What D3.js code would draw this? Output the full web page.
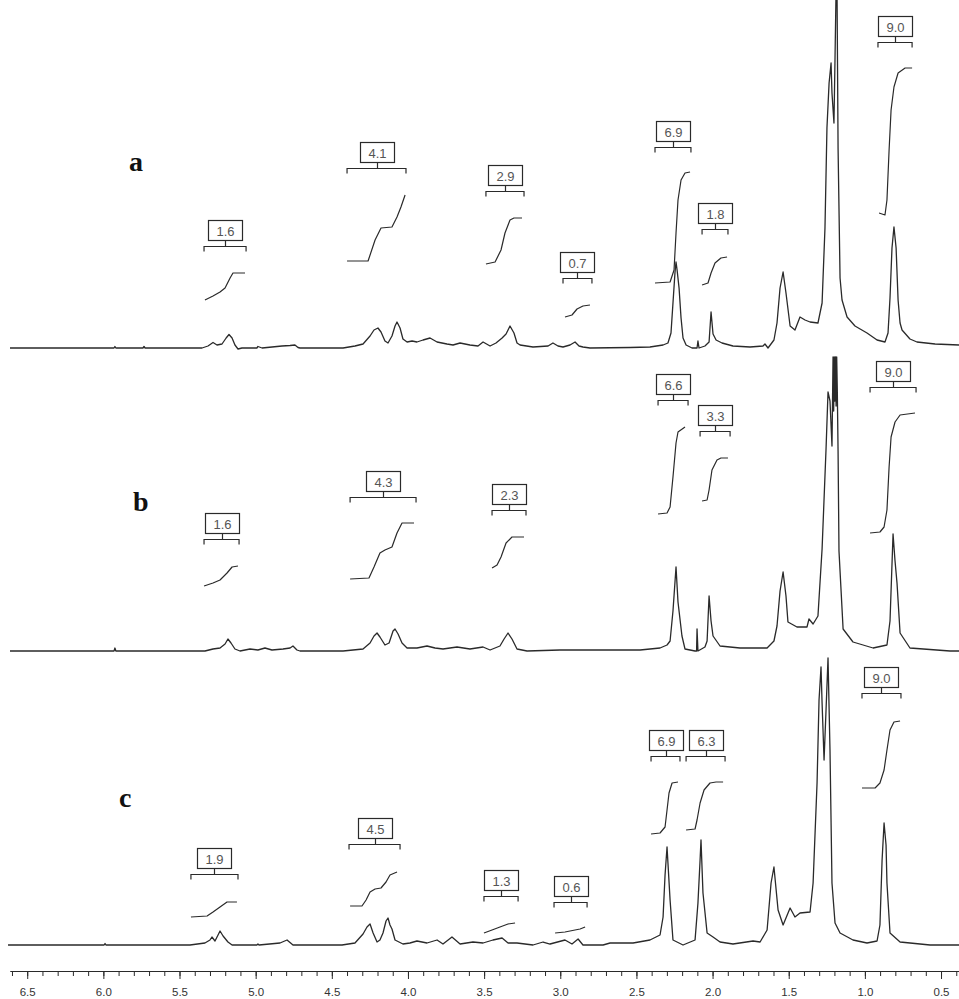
<!DOCTYPE html>
<html>
<head>
<meta charset="utf-8">
<script src="https://cdn.jsdelivr.net/npm/d3@7"></script>
<style>
  html, body { margin: 0; padding: 0; background: #fff; }
  svg { display: block; }
</style>
</head>
<body>
<svg id="chart" width="959" height="999"></svg>
<script>
// 1H NMR spectra (ppm) of three samples, stacked, with integration traces

const panelNames = ["a", "b", "c"];

const majorTicks = [6.5, 6.0, 5.5, 5.0, 4.5, 4.0, 3.5, 3.0, 2.5, 2.0, 1.5, 1.0, 0.5];
const tickLabels = ["6.5", "6.0", "5.5", "5.0", "4.5", "4.0", "3.5", "3.0", "2.5", "2.0", "1.5", "1.0", "0.5"];

// spectrum a: [chemical shift (ppm), intensity]
const spectrumA = [
  [6.613,0],[5.93,0],[5.924,1.5],[5.918,0],[5.74,0],[5.733,1.5],[5.726,0],
  [5.352,0],[5.313,2],[5.280,5.5],[5.254,3],[5.221,4],[5.194,10],[5.175,13.5],[5.155,10],
  [5.136,3],[5.116,-1],[5.090,0],[4.992,0],[4.985,1.5],[4.958,0],[4.827,2],[4.774,2.5],
  [4.742,3],[4.722,0.5],[4.709,0],[4.426,0],[4.348,2],[4.295,4],[4.249,12],[4.223,18],
  [4.197,20],[4.177,16],[4.151,7],[4.131,5],[4.105,12],[4.085,22],[4.072,26],[4.052,20],
  [4.033,9],[4.006,6],[3.973,7],[3.941,6],[3.901,8],[3.855,10],[3.809,6],[3.744,4],
  [3.704,3],[3.658,5],[3.593,3],[3.540,2],[3.507,6],[3.461,2],[3.422,5],[3.382,10],
  [3.356,14],[3.330,22],[3.304,15],[3.284,5],[3.264,3],[3.179,1],[3.080,2],[3.048,5],
  [3.015,2],[2.982,1],[2.936,3],[2.903,6],[2.877,2],[2.851,1],[2.805,0],[2.542,0.5],
  [2.411,1],[2.325,3],[2.293,5],[2.273,15],[2.260,45],[2.247,75],[2.240,86],[2.233,78],
  [2.220,60],[2.207,30],[2.194,10],[2.174,3],[2.135,0],[2.102,0],[2.096,7],[2.089,0],
  [2.050,2],[2.023,6],[2.010,36],[1.997,14],[1.977,8],[1.938,5],[1.866,2],[1.754,1],
  [1.669,2],[1.656,4],[1.636,0],[1.597,8],[1.577,25],[1.557,60],[1.537,76],[1.518,55],
  [1.491,22],[1.459,18],[1.426,31],[1.393,28],[1.360,26],[1.308,25],[1.281,45],[1.262,120],
  [1.249,220],[1.235,265],[1.222,285],[1.216,255],[1.203,225],[1.196,290],[1.189,360],
  [1.183,360],[1.176,200],[1.163,70],[1.150,48],[1.117,31],[1.065,22],[0.986,15],
  [0.920,8],[0.868,6],[0.848,15],[0.835,50],[0.822,100],[0.809,121],[0.795,100],
  [0.782,48],[0.769,25],[0.756,18],[0.704,9],[0.658,6],[0.539,4],[0.382,3]
];

// spectrum b
const spectrumB = [
  [6.613,0],[5.93,0],[5.924,3],[5.918,0],[5.333,0],[5.280,2],[5.234,3],[5.201,7],
  [5.182,12],[5.162,8],[5.136,2],[5.103,0],[5.037,2],[4.985,1],[4.939,3],[4.893,1],
  [4.820,2],[4.774,3],[4.755,5],[4.729,1],[4.709,0],[4.426,0],[4.295,2],[4.249,8],
  [4.223,15],[4.203,18],[4.184,14],[4.151,6],[4.124,8],[4.098,20],[4.085,22],[4.065,17],
  [4.039,8],[4.006,3],[3.941,3],[3.875,5],[3.822,3],[3.770,2],[3.678,4],[3.593,2],
  [3.507,4],[3.461,1],[3.396,5],[3.369,12],[3.343,18],[3.317,12],[3.284,2],[3.218,0],
  [3.002,1],[2.739,1],[2.476,1],[2.345,3],[2.299,6],[2.279,10],[2.260,40],[2.240,84],
  [2.227,49],[2.201,15],[2.181,2],[2.115,0],[2.105,0],[2.102,22],[2.096,0],[2.050,4],
  [2.036,10],[2.023,55],[2.010,30],[1.997,15],[1.951,5],[1.820,3],[1.642,3],[1.597,10],
  [1.577,25],[1.557,60],[1.537,79],[1.518,55],[1.505,29],[1.446,24],[1.380,24],[1.367,32],
  [1.340,27],[1.308,35],[1.281,102],[1.255,202],[1.242,259],[1.229,250],[1.216,205],
  [1.209,294],[1.205,240],[1.201,294],[1.197,250],[1.193,294],[1.189,245],[1.185,294],
  [1.181,260],[1.176,200],[1.170,100],[1.143,22],[1.078,9],[0.946,3],
  [0.855,6],[0.835,30],[0.815,117],[0.802,90],[0.789,68],[0.769,18],[0.704,3],[0.441,0],[0.382,0]
];

// spectrum c
const spectrumC = [
  [6.626,0],[5.995,0],[5.989,1.5],[5.983,0],[5.431,0],[5.333,2],[5.300,5],[5.287,8],
  [5.267,4],[5.247,10],[5.234,14],[5.214,9],[5.182,3],[5.155,0],[4.992,0],[4.985,1],
  [4.978,0],[4.840,2],[4.794,5],[4.755,0],[4.433,0],[4.348,2],[4.295,11],[4.269,18],
  [4.249,21],[4.229,12],[4.203,3],[4.184,5],[4.164,12],[4.144,24],[4.131,27],[4.118,20],
  [4.105,16],[4.085,5],[4.033,1],[3.987,2],[3.941,4],[3.875,2],[3.809,5],[3.770,1],
  [3.711,8],[3.658,1],[3.573,3],[3.507,2],[3.442,5],[3.382,7],[3.343,2],[3.284,2],
  [3.179,0],[3.113,3],[3.067,1],[2.969,5],[2.923,1],[2.883,6],[2.851,0],[2.719,0],
  [2.673,2],[2.522,2],[2.411,5],[2.345,10],[2.325,28],[2.312,70],[2.299,98],[2.293,82],
  [2.279,45],[2.260,5],[2.194,0],[2.115,5],[2.096,42],[2.082,85],[2.076,105],[2.063,52],
  [2.036,12],[1.997,8],[1.951,3],[1.866,1],[1.734,4],[1.688,3],[1.642,15],[1.616,62],
  [1.597,78],[1.570,35],[1.537,20],[1.491,37],[1.459,28],[1.426,32],[1.360,33],[1.340,62],
  [1.314,162],[1.301,245],[1.288,278],[1.281,242],[1.268,185],[1.255,235],[1.242,287],
  [1.229,195],[1.216,62],[1.196,22],[1.163,12],[1.078,5],[0.986,2],[0.920,4],[0.901,20],
  [0.887,85],[0.874,122],[0.861,100],[0.855,62],[0.835,12],[0.769,3],[0.572,0],[0.382,0]
];

// integrals: value, integrated range (ppm), bracket level, integral trace [ppm, height]
const integralsA = [
  { label: "1.6", range: [5.339, 5.063], level: 102,
    curve: [[5.333,48],[5.280,52],[5.234,56],[5.201,60],[5.168,70],[5.149,75],[5.070,75]] },
  { label: "4.1", range: [4.400, 4.013], level: 180,
    curve: [[4.400,87],[4.262,87],[4.216,108],[4.177,120],[4.105,121],[4.072,131],[4.046,141],[4.019,153]] },
  { label: "2.9", range: [3.488, 3.238], level: 157,
    curve: [[3.488,84],[3.428,86],[3.389,98],[3.363,115],[3.330,128],[3.304,130],[3.251,130]] },
  { label: "0.7", range: [2.982, 2.792], level: 70,
    curve: [[2.969,31],[2.923,33],[2.890,39],[2.851,42],[2.805,43]] },
  { label: "6.9", range: [2.378, 2.142], level: 201,
    curve: [[2.378,65],[2.279,66],[2.253,78],[2.240,115],[2.227,148],[2.207,168],[2.181,175],[2.148,176]] },
  { label: "1.8", range: [2.069, 1.899], level: 119,
    curve: [[2.069,63],[2.030,65],[2.010,75],[1.984,85],[1.945,90],[1.905,91]] },
  { label: "9.0", range: [0.914, 0.690], level: 306,
    curve: [[0.907,135],[0.868,133],[0.855,148],[0.841,198],[0.828,238],[0.809,261],[0.782,275],[0.736,280],[0.690,280]] }
];

const integralsB = [
  { label: "1.6", range: [5.339, 5.109], level: 112,
    curve: [[5.339,65],[5.280,68],[5.234,71],[5.188,78],[5.155,84],[5.116,85]] },
  { label: "4.3", range: [4.380, 3.947], level: 154,
    curve: [[4.380,72],[4.256,73],[4.223,84],[4.184,98],[4.151,101],[4.105,104],[4.072,118],[4.039,128],[3.960,128]] },
  { label: "2.3", range: [3.448, 3.225], level: 141,
    curve: [[3.448,83],[3.415,86],[3.389,94],[3.356,108],[3.317,114],[3.238,114]] },
  { label: "6.6", range: [2.358, 2.161], level: 251,
    curve: [[2.358,137],[2.299,138],[2.279,144],[2.260,174],[2.240,208],[2.227,219],[2.181,224]] },
  { label: "3.3", range: [2.082, 1.885], level: 220,
    curve: [[2.069,150],[2.036,151],[2.023,161],[2.004,181],[1.971,191],[1.945,193],[1.899,193]] },
  { label: "9.0", range: [0.966, 0.664], level: 264,
    curve: [[0.966,118],[0.901,119],[0.874,124],[0.855,141],[0.841,184],[0.828,214],[0.802,229],[0.769,236],[0.671,238]] }
];

const integralsC = [
  { label: "1.9", range: [5.425, 5.116], level: 71,
    curve: [[5.425,28],[5.319,29],[5.280,33],[5.234,38],[5.188,43],[5.123,43]] },
  { label: "4.5", range: [4.387, 4.052], level: 101,
    curve: [[4.380,39],[4.302,39],[4.275,45],[4.249,53],[4.216,56],[4.177,57],[4.144,63],[4.118,70],[4.072,73]] },
  { label: "1.3", range: [3.501, 3.277], level: 49,
    curve: [[3.501,12],[3.448,15],[3.396,18],[3.343,21],[3.297,22]] },
  { label: "0.6", range: [3.041, 2.824], level: 43,
    curve: [[3.034,12],[2.969,13],[2.903,15],[2.870,16],[2.837,18]] },
  { label: "6.9", range: [2.404, 2.214], level: 189,
    curve: [[2.404,111],[2.345,112],[2.312,118],[2.299,135],[2.286,152],[2.266,162],[2.227,163]] },
  { label: "6.3", range: [2.174, 1.918], level: 189,
    curve: [[2.174,115],[2.115,116],[2.102,125],[2.082,142],[2.056,155],[2.017,162],[1.977,163],[1.931,163]] },
  { label: "9.0", range: [1.019, 0.763], level: 252,
    curve: [[1.019,157],[0.933,157],[0.901,162],[0.874,175],[0.855,195],[0.835,215],[0.809,223],[0.769,224]] }
];

const spectra = [spectrumA, spectrumB, spectrumC];
const integrals = [integralsA, integralsB, integralsC];

// ---- layout ----
const W = 959, H = 999;
const baselines = [348, 651, 945];
const panelLabelPos = [[129, 171], [133, 511], [119, 807]];
const axisY = 971;
const ink = "#2a2a2a";

const svg = d3.select("#chart");

const x = d3.scaleLinear().domain([6.613, 0.382]).range([10, 959]);

const g = svg.append("g");

spectra.forEach((spec, i) => {
  const base = baselines[i];
  const y = d3.scaleLinear().domain([0, 300]).range([base, base - 300]);
  const line = d3.line().x(d => x(d[0])).y(d => y(d[1]));
  const panel = g.append("g").attr("class", "panel-" + panelNames[i]);

  panel.append("path")
    .datum(spec)
    .attr("d", line)
    .attr("fill", "none")
    .attr("stroke", ink)
    .attr("stroke-width", 1.3)
    .attr("stroke-linejoin", "round");

  integrals[i].forEach(intg => {
    // integral trace
    panel.append("path")
      .datum(intg.curve)
      .attr("d", line)
      .attr("fill", "none")
      .attr("stroke", ink)
      .attr("stroke-width", 1.2)
      .attr("stroke-linejoin", "round");

    // bracket over the integrated range
    const x0 = x(intg.range[0]), x1 = x(intg.range[1]);
    const by = Math.round(y(intg.level)) + 0.5;
    const cx = Math.round((x0 + x1) / 2) + 0.5;
    panel.append("path")
      .attr("d", `M${x0},${by + 5}V${by}H${x1}V${by + 5}M${cx},${by}V${by - 6}`)
      .attr("fill", "none")
      .attr("stroke", ink)
      .attr("stroke-width", 1.2);

    // value box
    const bw = 34, bh = 20;
    panel.append("rect")
      .attr("x", cx - bw / 2)
      .attr("y", by - 6 - bh)
      .attr("width", bw)
      .attr("height", bh)
      .attr("fill", "#fff")
      .attr("stroke", ink)
      .attr("stroke-width", 1.2);
    panel.append("text")
      .attr("x", cx)
      .attr("y", by - 6 - bh / 2 + 5)
      .attr("text-anchor", "middle")
      .attr("font-family", "Liberation Sans, Arial, sans-serif")
      .attr("font-size", 13)
      .attr("fill", "#555")
      .text(intg.label);
  });

  panel.append("text")
    .attr("x", panelLabelPos[i][0])
    .attr("y", panelLabelPos[i][1])
    .attr("font-family", "Liberation Serif, Times New Roman, serif")
    .attr("font-weight", "bold")
    .attr("font-size", 28)
    .attr("fill", "#111")
    .text(panelNames[i]);
});

// ---- ppm axis ----
const minorTicks = d3.range(4, 67).map(v => v / 10).filter(v => v <= 6.613 && v >= 0.382);

const minorAxis = d3.axisBottom(x)
  .tickValues(minorTicks)
  .tickSize(5)
  .tickSizeOuter(0)
  .tickFormat("");

const majorAxis = d3.axisBottom(x)
  .tickValues(majorTicks)
  .tickSize(8)
  .tickSizeOuter(0)
  .tickPadding(9)
  .tickFormat((d, i) => tickLabels[i]);

const ax1 = svg.append("g").attr("transform", `translate(0,${axisY})`).call(minorAxis);
const ax2 = svg.append("g").attr("transform", `translate(0,${axisY})`).call(majorAxis);

[ax1, ax2].forEach(a => {
  a.select(".domain").attr("stroke", ink).attr("stroke-width", 1.2);
  a.selectAll(".tick line").attr("stroke", ink).attr("stroke-width", 1);
  a.selectAll("text")
    .attr("font-family", "Liberation Sans, Arial, sans-serif")
    .attr("font-size", 11.5)
    .attr("fill", "#333");
});
</script>
</body>
</html>
